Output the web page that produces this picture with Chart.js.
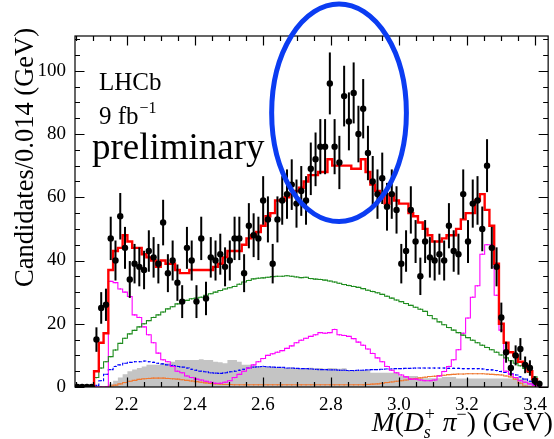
<!DOCTYPE html>
<html lang="en">
<head>
<meta charset="UTF-8">
<title>M(Ds+ pi-) fit</title>
<script src="https://cdn.jsdelivr.net/npm/chart.js"></script>
<style>
  body { margin: 0; background: #fff; }
  #wrap { width: 554px; height: 439px; }
</style>
</head>
<body>
<div id="wrap"><canvas id="massChart" width="554" height="439"></canvas></div>
<script>
// binning: 0.014 GeV bins starting at 2.048 GeV
const massLo = 2.048;
const binW = 0.014;

// data counts per bin (first 4 bins empty)
const counts = [0, 0, 0, 0,
  15, 25, 26, 47, 40, 54, 44, 34, 39, 38,
  37, 43, 41, 39, 52, 36, 40, 33, 27, 44,
  40, 27, 47, 28, 41, 40, 42, 38, 40, 47,
  47, 36, 51, 48, 47, 59, 53, 39, 53, 59,
  61, 64, 58, 62, 59, 69, 72, 76, 76, 96,
  76, 71, 92, 84, 93, 80, 88, 74, 65, 61,
  66, 57, 61, 56, 39, 43, 56, 46, 35, 46,
  41, 40, 42, 40, 51, 43, 42, 61, 46, 58,
  59, 50, 70, 44, 38, 22, 11, 6, 10, 12,
  7, 6, 2, 1];

// total fit (red)
const totalFit = [null, null, null, 0,
  5, 14, 17, 37, 43, 44, 48, 46, 44, 44,
  42, 41, 40, 38, 40, 39, 39, 37, 36, 36,
  37, 37, 37, 37, 37, 38, 39, 41, 43, 43,
  43, 45, 47, 48, 49, 51, 54, 55, 59, 59,
  60, 61, 62, 63, 65, 67, 67, 68, 68, 72,
  70, 70, 70, 70, 69, 69, 72, 68, 64, 62,
  61, 58, 61, 59, 58, 58, 55, 54, 52, 50,
  48, 46, 46, 47, 48, 48, 50, 53, 55, 55,
  59, 61, 56, 51, 39, 20, 14, 11, 10, 8,
  7, 5, 2.5, 1];

// broad component (green)
const greenComp = [null, null, null, 0,
  3, 6, 8, 9.6, 11.7, 13.8, 15.4, 16.8, 17.9, 19,
  20, 21, 22, 22.8, 23.7, 24.7, 25.4, 26.3, 27, 27.4,
  27.9, 28.1, 28.4, 29, 29.5, 30, 30.5, 31, 31.4, 31.8,
  32.5, 33.2, 33.7, 34.2, 34.4, 34.5, 34.7, 34.9, 35, 35,
  35.2, 35, 34.8, 34.6, 34.7, 34.3, 34.1, 34, 33.8, 33.5,
  33.2, 32.8, 32.4, 32.1, 31.8, 31.5, 31.1, 30.6, 30.2, 29.8,
  29.3, 28.7, 28.1, 27.5, 27, 26.4, 25.8, 25.2, 24.6, 23.9,
  22.6, 21.6, 20.6, 19.7, 18.8, 18, 17.2, 16.4, 15.6, 14.8,
  14, 13.2, 12.5, 11.8, 11, 10.1, 9.2, 8.3, 7.5, 6.7,
  5.9, 4.6, 3.2, 1.5];

// reflection peaks (magenta)
const magentaComp = [null, null, null, 0,
  0, 0, 0, 33.4, 33, 31, 30, 28.6, 22.8, 22,
  19, 16.5, 14, 10.7, 8.6, 8, 6.5, 5, 4.5, 3.5,
  3, 2.5, 2.2, 1.8, 1.5, 1.2, 1.2, 1.5, 2, 3,
  4, 5, 6, 7, 8, 9, 10, 10.5, 11, 11.5,
  12.2, 13, 14, 14.8, 15.4, 16, 16.5, 17.2, 17, 17.2,
  18.2, 16.5, 16.3, 16, 15.3, 14.2, 13.2, 12, 10.6, 9.2,
  8, 6.5, 5.3, 4.5, 3.8, 3.2, 2.5, 2.5, 2.2, 2,
  2, 2.2, 3.5, 4.9, 6.5, 8.6, 11.8, 17, 21.8, 28.4,
  32, 42, 45, 45, 29, 18, 5, 4, 3, 2,
  1.5, 1, 0.5, 0];

// blue component
const blueComp = [null, null, null, 0,
  0.5, 2, 4, 5.5, 6.5, 7, 7.5, 7.8, 8, 8,
  8.2, 8, 7.8, 7.5, 7.3, 7, 6.8, 6.5, 6.3, 6,
  5.6, 5.3, 5, 4.8, 4.5, 4.4, 4.3, 4.5, 4.8, 5,
  5.3, 5.6, 6, 6.3, 6.4, 6.5, 6.4, 6.3, 6.2, 6.2,
  6, 6, 5.9, 5.8, 5.8, 5.7, 5.6, 5.5, 5.5, 5.4,
  5.4, 5.3, 5.3, 5.2, 5.2, 5.3, 5.3, 5.4, 5.5, 5.5,
  5.6, 5.7, 5.7, 5.8, 5.8, 5.9, 5.9, 6, 6, 6,
  6, 6, 6, 6, 5.9, 5.9, 5.9, 5.8, 5.8, 5.8,
  5.8, 5.7, 5.5, 5.4, 5.2, 4.9, 4.6, 4.2, 3.8, 3.2,
  2.5, 1.8, 1, 0.4];

// orange component
const orangeComp = [null, null, null, 0,
  0, 0, 0, 0.3, 0.6, 1, 1.4, 1.8, 2.1, 2.4,
  2.6, 2.7, 2.8, 2.8, 2.8, 2.7, 2.6, 2.5, 2.3, 2.1,
  1.9, 1.7, 1.5, 1.3, 1.1, 1, 0.9, 0.8, 0.8, 0.7,
  0.7, 0.7, 0.7, 0.7, 0.7, 0.7, 0.7, 0.7, 0.7, 0.7,
  0.7, 0.7, 0.7, 0.7, 0.7, 0.7, 0.7, 0.7, 0.7, 0.7,
  0.7, 0.7, 0.7, 0.7, 0.7, 0.7, 0.7, 0.8, 0.9, 1,
  1.2, 1.4, 1.6, 1.8, 2, 2.2, 2.5, 2.7, 2.9, 3.1,
  3.3, 3.4, 3.6, 3.7, 3.9, 4, 4.1, 4.1, 4.2, 4.2,
  4.2, 4.2, 4.1, 4, 3.9, 3.8, 3.5, 3.2, 2.5, 1.2,
  0.3, 0, 0, 0];

// grey filled background
const greyBkg = [null, null, null, 0,
  0, 0, 0, 1, 2, 3, 4, 5, 5.5, 6,
  6.5, 7, 7, 7, 7.5, 7.5, 8, 8.5, 8.5, 8.5,
  8.5, 8.5, 8.8, 8.5, 8.5, 8, 7.8, 7.5, 8.5, 8.5,
  8, 7, 7, 6.8, 6.6, 6.5, 6.3, 6.4, 6.2, 6,
  6, 6.2, 6, 5.8, 6, 6.1, 5.9, 6, 5.8, 6,
  5.9, 5.8, 5.9, 5.3, 5.3, 5.3, 5.3, 5.3, 4.5, 4.5,
  4.5, 4.5, 4.5, 4.5, 3.5, 3.5, 3.5, 3.5, 2.8, 2.8,
  2.8, 2.8, 2.8, 3.2, 3.2, 3.2, 2.7, 2.7, 2.7, 2.7,
  2.7, 2.7, 2.7, 2.7, 2.7, 2.7, 2.7, 2.7, 2.7, 2.7,
  2.7, 2, 1, 0];

const xTicks = [2.2, 2.4, 2.6, 2.8, 3.0, 3.2, 3.4];
const yTicks = [0, 20, 40, 60, 80, 100];

const serif = '"Liberation Serif", "DejaVu Serif", serif';

function binCenter(i) { return massLo + (i + 0.5) * binW; }

// histogram outline: left edge, centre (marker), right edge
function steps(vals, marker) {
  const pts = [];
  vals.forEach((v, i) => {
    const lo = massLo + i * binW;
    if (v === null) { pts.push({ x: lo + binW / 2, y: null }); return; }
    pts.push({ x: lo, y: v }, { x: lo + binW / 2, y: v, m: marker }, { x: lo + binW, y: v });
  });
  return pts;
}

function histSet(label, vals, color, width, opts) {
  return Object.assign({
    type: 'line',
    label: label,
    data: steps(vals, opts && opts.marker),
    borderColor: color,
    backgroundColor: color,
    borderWidth: width,
    pointRadius: ctx => (ctx.raw && ctx.raw.m ? 0.9 : 0),
    pointBorderWidth: 0,
    pointStyle: 'rect',
    tension: 0,
    spanGaps: false,
    fill: false
  }, opts || {});
}

const dataPoints = counts.map((c, i) => ({ x: binCenter(i), y: c }));

const errorBars = {
  id: 'errorBars',
  beforeDatasetDraw(chart, args) {
    if (args.index !== 0) return;
    const ctx = chart.ctx, y = chart.scales.y;
    ctx.save();
    ctx.strokeStyle = '#000';
    ctx.lineWidth = 2;
    args.meta.data.forEach((pt, i) => {
      const c = counts[i];
      if (c <= 0) return;
      const e = Math.sqrt(c);
      ctx.beginPath();
      ctx.moveTo(pt.x, y.getPixelForValue(c + e));
      ctx.lineTo(pt.x, y.getPixelForValue(c - e));
      ctx.stroke();
    });
    ctx.restore();
  }
};

const frameTicks = {
  id: 'frameTicks',
  afterDatasetsDraw(chart) {
    const ctx = chart.ctx, a = chart.chartArea;
    const xs = chart.scales.x, ys = chart.scales.y;
    ctx.save();
    ctx.strokeStyle = '#000';
    ctx.lineWidth = 1.2;
    ctx.strokeRect(a.left, a.top, a.right - a.left, a.bottom - a.top);
    ctx.beginPath();
    for (let v = 2.05; v <= 3.44; v += 0.05) {
      const major = xTicks.some(t => Math.abs(t - v) < 1e-6);
      const L = major ? 9.5 : 5;
      const px = Math.round(xs.getPixelForValue(v)) + 0.5;
      ctx.moveTo(px, a.bottom); ctx.lineTo(px, a.bottom - L);
      ctx.moveTo(px, a.top); ctx.lineTo(px, a.top + L);
    }
    for (let v = 0; v <= 111; v += 5) {
      const major = v % 20 === 0;
      const L = major ? 9.5 : 5;
      const py = Math.round(ys.getPixelForValue(v)) + 0.5;
      ctx.moveTo(a.left, py); ctx.lineTo(a.left + L, py);
      ctx.moveTo(a.right, py); ctx.lineTo(a.right - L, py);
    }
    ctx.stroke();
    ctx.restore();
  },
  afterDraw(chart) {
    const ctx = chart.ctx;
    const xs = chart.scales.x, ys = chart.scales.y;
    ctx.save();
    ctx.fillStyle = '#000';
    ctx.textBaseline = 'alphabetic';
    ctx.textAlign = 'left';
    ctx.font = '25px ' + serif;
    ctx.fillText('LHCb', 99, 90);
    ctx.fillText('9 fb', 99, 124);
    const w = ctx.measureText('9 fb').width;
    ctx.font = '16px ' + serif;
    ctx.fillText('\u22121', 99 + w + 1, 113);
    ctx.font = '37px ' + serif;
    ctx.fillText('preliminary', 92, 159);

    // y title
    ctx.save();
    ctx.translate(33, 28);
    ctx.rotate(-Math.PI / 2);
    ctx.textAlign = 'right';
    ctx.font = '26.5px ' + serif;
    ctx.fillText('Candidates/0.014 (GeV)', 0, 0);
    ctx.restore();

    // x title  M(D_s^+ pi^-) (GeV)
    const F = 27.5, f = 18;
    const parts = [
      { t: 'M', font: 'italic ' + F + 'px ' + serif, dy: 0 },
      { t: '(', font: F + 'px ' + serif, dy: 0 },
      { t: 'D', font: 'italic ' + F + 'px ' + serif, dy: 0 },
      { t: 's', font: 'italic ' + f + 'px ' + serif, dy: 7, sup: '+' },
      { t: ' ', font: F + 'px ' + serif, dy: 0 },
      { t: '\u03c0', font: 'italic ' + F + 'px ' + serif, dy: 0 },
      { t: '\u2212', font: f + 'px ' + serif, dy: -11 },
      { t: ')', font: F + 'px ' + serif, dy: 0 },
      { t: ' (GeV)', font: F + 'px ' + serif, dy: 0 }
    ];
    let total = 0;
    parts.forEach(p => {
      ctx.font = p.font;
      let pw = ctx.measureText(p.t).width;
      if (p.sup) { ctx.font = f + 'px ' + serif; pw = Math.max(pw, ctx.measureText(p.sup).width); }
      p.w = pw + (p.sup ? 2 : 0);
      total += p.w;
    });
    let x0 = 553 - total;
    const base = 431;
    parts.forEach(p => {
      ctx.font = p.font;
      ctx.fillText(p.t, x0, base + p.dy);
      if (p.sup) { ctx.font = f + 'px ' + serif; ctx.fillText(p.sup, x0 + 1, base - 11); }
      x0 += p.w;
    });

    // annotation ellipse
    const cx = xs.getPixelForValue(2.824), cy = ys.getPixelForValue(86.7);
    const rx = xs.getPixelForValue(2.824 + 0.198) - cx;
    const ry = cy - ys.getPixelForValue(86.7 + 34.4);
    ctx.beginPath();
    ctx.ellipse(cx, cy, rx, ry, 0, 0, Math.PI * 2);
    ctx.strokeStyle = '#0b3cf2';
    ctx.lineWidth = 5;
    ctx.stroke();
    ctx.restore();
  }
};

new Chart(document.getElementById('massChart'), {
  type: 'line',
  data: {
    datasets: [
      {
        type: 'scatter',
        label: 'Data',
        data: dataPoints,
        pointRadius: 3.2,
        pointBackgroundColor: '#000',
        pointBorderColor: '#000',
        borderWidth: 0,
        showLine: false
      },
      histSet('Total', totalFit, '#ff0000', 2.4),
      histSet('Broad', greenComp, '#1e8c1e', 1.1, { marker: true }),
      histSet('Reflections', magentaComp, '#ff00ff', 1.1, { marker: true }),
      histSet('Blue', blueComp, '#0000ff', 1.1, { marker: true, borderDash: [3, 2] }),
      histSet('Orange', orangeComp, '#f07830', 1.1, { marker: true }),
      histSet('Grey', greyBkg, '#c0c0c0', 0, { fill: 'origin', backgroundColor: '#c4c4c4' })
    ]
  },
  options: {
    responsive: false,
    animation: false,
    layout: { padding: { top: 36, right: 1, left: 0, bottom: 0 } },
    plugins: { legend: { display: false }, tooltip: { enabled: false } },
    scales: {
      x: {
        type: 'linear',
        min: 2.048,
        max: 3.4386,
        afterFit: s => { s.height = 52; },
        afterBuildTicks: s => { s.ticks = xTicks.map(v => ({ value: v })); },
        grid: { display: false, drawTicks: false },
        border: { display: false },
        ticks: {
          color: '#000',
          font: { family: serif, size: 19 },
          padding: 7,
          maxRotation: 0,
          autoSkip: false,
          callback: v => v.toFixed(1)
        }
      },
      y: {
        type: 'linear',
        min: 0,
        max: 111,
        afterFit: s => { s.width = 75; },
        afterBuildTicks: s => { s.ticks = yTicks.map(v => ({ value: v })); },
        grid: { display: false, drawTicks: false },
        border: { display: false },
        ticks: {
          color: '#000',
          font: { family: serif, size: 19 },
          padding: 9,
          callback: v => String(v)
        }
      }
    }
  },
  plugins: [errorBars, frameTicks]
});
</script>
</body>
</html>
